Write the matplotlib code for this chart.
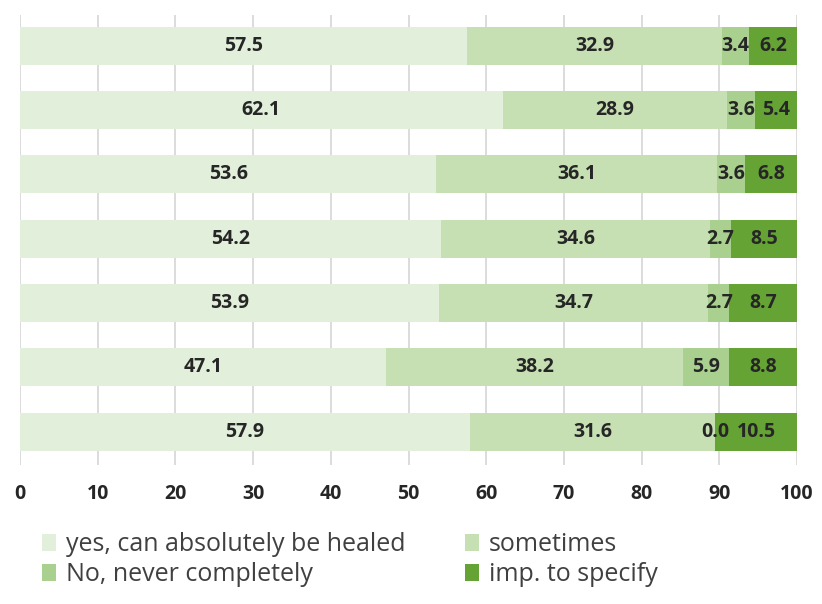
import matplotlib
matplotlib.use("Agg")
import matplotlib.pyplot as plt
import numpy as np

series_names = ["yes, can absolutely be healed", "sometimes", "No, never completely", "imp. to specify"]
yes_vals = [57.5, 62.1, 53.6, 54.2, 53.9, 47.1, 57.9]
some_vals = [32.9, 28.9, 36.1, 34.6, 34.7, 38.2, 31.6]
no_vals = [3.4, 3.6, 3.6, 2.7, 2.7, 5.9, 0.0]
imp_vals = [6.2, 5.4, 6.8, 8.5, 8.7, 8.8, 10.5]
colors = ["#e2efda", "#c6e0b4", "#a9d08e", "#66a335"]
xticks = [0, 10, 20, 30, 40, 50, 60, 70, 80, 90, 100]

plt.rcParams['font.family'] = ['Open Sans', 'DejaVu Sans']

fig = plt.figure(figsize=(8.22, 6.04), dpi=100)
ax = fig.add_axes([20/822, 1-465/604, (797-20)/822, 450/604])

data = [yes_vals, some_vals, no_vals, imp_vals]
y = np.arange(len(yes_vals))
left = np.zeros(len(yes_vals))
for vals, c, name in zip(data, colors, series_names):
    vals = np.array(vals)
    ax.barh(y, vals, left=left, height=0.59, color=c, label=name, zorder=2)
    for yi, l, v in zip(y, left, vals):
        ax.text(l + v/2, yi, f"{v:.1f}", ha="center", va="center",
                fontsize=14, fontweight="bold", color="#262626", zorder=3)
    left = left + vals

ax.set_xlim(0, 100)
ax.set_ylim(len(y) - 0.5 + 0.02, -0.5 + 0.02)
ax.set_xticks(xticks)
ax.set_xticklabels([str(t) for t in xticks], fontsize=14, fontweight="bold", color="#262626")
ax.set_yticks([])
ax.tick_params(axis="x", length=0, pad=14)
ax.grid(axis="x", color="#dcdcdc", linewidth=1.4, zorder=0)
for s in ax.spines.values():
    s.set_visible(False)

handles, labels = ax.get_legend_handles_labels()
order = [0, 2, 1, 3]
leg = fig.legend([handles[i] for i in order], [labels[i] for i in order],
                 loc="upper left", bbox_to_anchor=(32/822, 1-522/604),
                 ncol=2, frameon=False, fontsize=18, handlelength=0.55, handleheight=0.7,
                 handletextpad=0.4, columnspacing=2.4, labelspacing=0.2, borderaxespad=0)
for t in leg.get_texts():
    t.set_color("#404040")

fig.savefig("out.png", dpi=100)
